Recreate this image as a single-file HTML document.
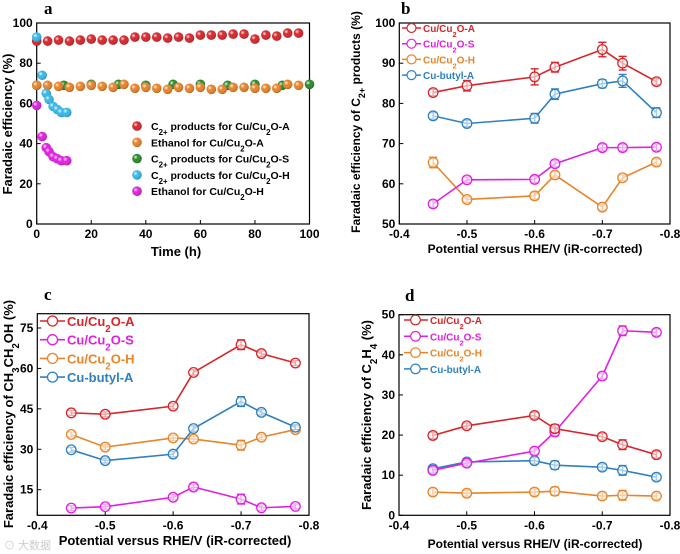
<!DOCTYPE html>
<html><head><meta charset="utf-8"><style>
body{margin:0;background:#fff}
svg{display:block;font-family:"Liberation Sans",Arial,sans-serif}
</style></head><body>
<svg id="fig" width="680" height="554" viewBox="0 0 680 554">
<defs>
<radialGradient id="gr" cx="35%" cy="35%" r="70%"><stop offset="0" stop-color="#fff" stop-opacity="0.9"/><stop offset="0.35" stop-color="#fff" stop-opacity="0"/><stop offset="1" stop-color="#000" stop-opacity="0.25"/></radialGradient>
</defs>
</svg>
<script>
// ---- Panel a data ----
const aRedT=[0,4,8,12,16,20,24,28,32,36,40,44,48,52,56,60,64,68,72,76,80,84,88,92,96];
const aRedV=[91,91,91.5,91,91.5,92,91.5,91.5,91.5,93,93,93,92.5,93,92.5,94,94,94,94.5,94.5,92,94,93.5,95,95];
const aOrgT=[0,4,8,12,16,20,24,28,32,36,40,44,48,52,56,60,64,68,72,76,80,84,88,92,96];
const aOrgV=[69,69,68.5,68,68.5,69,68.5,68,69.5,67.5,68,67.5,67,68,67.5,68,67,67,68,68,67.5,67.5,67.5,69.5,69];
const aGrnT=[0,10,20,30,40,50,60,70,80,90,100];
const aGrnV=[69,69,69.5,69.5,69,69.5,69.5,69,69.5,69,69.5];
const aCyT=[0,2,3.5,4.5,6,7.5,9,11];
const aCyV=[93,74,65,62,58.5,57,55.5,55.5];
const aMgT=[0,2,3.5,4.5,6,7.5,9,11];
const aMgV=[59,43.5,38,36,33.5,32.5,31.5,31.5];
const aXTicks=[0,20,40,60,80,100];
const aYTicks=[0,20,40,60,80,100];
// ---- shared potentials ----
const potentials=[-0.45,-0.5,-0.6,-0.63,-0.7,-0.73,-0.78];
const potTicks=[-0.4,-0.5,-0.6,-0.7,-0.8];
// ---- Panel b data ----
const bA=[82.7,84.4,86.6,89,93.4,90,85.4];
const bAerr=[0.8,1.3,2,1.2,1.8,1.7,0.8];
const bS=[55,61,61.1,65,69,69,69.1];
const bSerr=[0.8,0.7,0.8,0.8,0.8,0.8,0.8];
const bH=[65.3,56.1,57,62.2,54.2,61.5,65.4];
const bHerr=[1.3,0.7,0.8,0.8,0.8,0.7,0.8];
const bB=[76.9,75,76.3,82.3,84.9,85.6,77.7];
const bBerr=[0.8,0.8,1.2,1.3,1,1.6,1.2];
const bYTicks=[50,60,70,80,90,100];
// ---- Panel c data ----
const cA=[43.5,43,46,58.5,68.8,65.5,62];
const cS=[8.2,8.7,12.2,16,11.5,8.3,8.8];
const cH=[35.5,30.8,34.2,33.8,31.5,34.5,37.3];
const cB=[29.8,25.8,28.2,37.7,47.7,43.7,38.2];
const cErr=[0.9,0.9,1,1,1.8,1,0.9];
const cYTicks=[15,30,45,60,75];
// ---- Panel d data ----
const dA=[19.9,22.3,24.9,21.6,19.6,17.6,15.1];
const dS=[11.2,13,16,20.8,34.7,46,45.6];
const dH=[5.8,5.5,5.8,6,4.8,5,4.8];
const dB=[11.6,13.3,13.6,12.5,12,11.2,9.5];
const dErr=[0.8,0.7,0.8,1,0.8,1.2,0.8];
const dYTicks=[0,10,20,30,40,50];

const C={red:'#d7262b',mag:'#e020e0',org:'#e8842a',blu:'#2f80c0',grn:'#2a8a2a',cy:'#38b8e8'};
const NS='http://www.w3.org/2000/svg';
const svg=document.getElementById('fig');
function el(tag,attrs,parent,txt){const e=document.createElementNS(NS,tag);for(const k in attrs)e.setAttribute(k,attrs[k]);if(txt!==undefined)e.textContent=txt;(parent||svg).appendChild(e);return e;}
function lin(d0,d1,r0,r1){return v=>r0+(v-d0)*(r1-r0)/(d1-d0);}

function axes(g,x0,x1,y0,y1,xs,ys,xt,yt,fmtX,name){
  el('rect',{x:x0,y:y1,width:x1-x0,height:y0-y1,fill:'none',stroke:'#000','stroke-width':1.2},g);
  xt.forEach(t=>{const x=xs(t);el('line',{x1:x,x2:x,y1:y0,y2:y0-4,stroke:'#000'},g);
    const tx=el('text',{x:x,y:y0+14,'text-anchor':'middle','font-size':12,'font-weight':'bold'},g,fmtX(t));
    });
  yt.forEach(t=>{const y=ys(t);el('line',{x1:x0,x2:x0+4,y1:y,y2:y,stroke:'#000'},g);
    const tx=el('text',{x:x0-4,y:y+4,'text-anchor':'end','font-size':12,'font-weight':'bold'},g,String(t));
    });
}
function group(name){const g=el('g',{});return g;}
function series(g,xs,ys,xv,yv,err,col,name){
  const pts=xv.map((x,i)=>xs(x)+','+ys(yv[i])).join(' ');
  const pl=el('polyline',{points:pts,fill:'none',stroke:col,'stroke-width':1.6},g);
  
  xv.forEach((x,i)=>{const cx=xs(x),cy=ys(yv[i]);
    if(err){const e=err[i];const ya=ys(yv[i]+e),yb=ys(yv[i]-e);
      el('line',{x1:cx,x2:cx,y1:ya,y2:yb,stroke:col,'stroke-width':1.4},g);
      el('line',{x1:cx-4,x2:cx+4,y1:ya,y2:ya,stroke:col,'stroke-width':1.4},g);
      el('line',{x1:cx-4,x2:cx+4,y1:yb,y2:yb,stroke:col,'stroke-width':1.4},g);}
    const m=el('circle',{cx:cx,cy:cy,r:4.8,fill:'#fff','fill-opacity':0.6,stroke:col,'stroke-width':1.3},g);
    });
}
function ball(g,x,y,col,name){
  const c=el('circle',{cx:x,cy:y,r:4.8,fill:col},g);
  el('circle',{cx:x,cy:y,r:4.8,fill:'url(#gr)'},g);
}
function sub(parent,x,y,anchor,size,col,parts,name){
  const t=el('text',{x:x,y:y,'font-size':size,'font-weight':'bold',fill:col,'text-anchor':anchor},parent);
  
  parts.forEach(p=>{const s=el('tspan',{},t,p[0]);if(p[1]==='sub'){s.setAttribute('baseline-shift','sub');s.setAttribute('font-size',size*0.75);}});
  return t;
}
function panelLabel(x,y,l){const t=el('text',{x:x,y:y,'font-family':'"Liberation Serif",serif','font-size':17,'font-weight':'bold'},svg,l);}
const fmtP=t=>t.toFixed(1);

// ===== Panel a =====
{const g=group('panel-a');const X0=36.7,X1=309.5,Y0=224,Y1=23;
 const xs=lin(0,100,X0,X1),ys=lin(0,100,Y0,Y1);
 axes(g,X0,X1,Y0,Y1,xs,ys,aXTicks,aYTicks,String,'panel-a');
 aGrnT.forEach((t,i)=>ball(g,xs(t),ys(aGrnV[i]),C.grn,'green-point'));
 aOrgT.forEach((t,i)=>ball(g,xs(t),ys(aOrgV[i]),C.org,'orange-point'));
 aRedT.forEach((t,i)=>ball(g,xs(t),ys(aRedV[i]),C.red,'red-point'));
 aCyT.forEach((t,i)=>ball(g,xs(t),ys(aCyV[i]),C.cy,'cyan-point'));
 aMgT.forEach((t,i)=>ball(g,xs(t),ys(aMgV[i]),C.mag,'magenta-point'));
 const leg=[[C.red,[['C'],['2+','sub'],[' products for Cu/Cu'],['2','sub'],['O-A']]],
  [C.org,[['Ethanol for Cu/Cu'],['2','sub'],['O-A']]],
  [C.grn,[['C'],['2+','sub'],[' products for Cu/Cu'],['2','sub'],['O-S']]],
  [C.cy,[['C'],['2+','sub'],[' products for Cu/Cu'],['2','sub'],['O-H']]],
  [C.mag,[['Ethanol for Cu/Cu'],['2','sub'],['O-H']]]];
 leg.forEach((l,i)=>{const y=126+i*16.3;ball(g,137,y,l[0],'legend-marker');sub(g,151,y+4,'start',10.5,'#000',l[1],'legend-entry');});
 const xl=el('text',{x:176,y:256,'text-anchor':'middle','font-size':13,'font-weight':'bold'},g,'Time (h)');
 const yl=el('text',{x:0,y:0,'text-anchor':'middle','font-size':13,'font-weight':'bold',transform:'translate(12,124) rotate(-90)'},g,'Faradaic efficiency (%)');
}
panelLabel(44,14,'a');

// ===== Panel b =====
{const g=group('panel-b');const X0=399.3,X1=670,Y0=224,Y1=23;
 const xs=lin(-0.4,-0.8,X0,X1),ys=lin(50,100,Y0,Y1);
 axes(g,X0,X1,Y0,Y1,xs,ys,potTicks,bYTicks,fmtP,'panel-b');
 series(g,xs,ys,potentials,bH,bHerr,C.org,'b-cu-cu2o-h');
 series(g,xs,ys,potentials,bS,bSerr,C.mag,'b-cu-cu2o-s');
 series(g,xs,ys,potentials,bB,bBerr,C.blu,'b-cu-butyl-a');
 series(g,xs,ys,potentials,bA,bAerr,C.red,'b-cu-cu2o-a');
 const L=[[C.red,[['Cu/Cu'],['2','sub'],['O-A']]],[C.mag,[['Cu/Cu'],['2','sub'],['O-S']]],[C.org,[['Cu/Cu'],['2','sub'],['O-H']]],[C.blu,[['Cu-butyl-A']]]];
 L.forEach((l,i)=>{const y=28+i*15.7;el('line',{x1:402,x2:421,y1:y,y2:y,stroke:l[0],'stroke-width':1.5},g);el('circle',{cx:411.5,cy:y,r:4.5,fill:'#fff',stroke:l[0],'stroke-width':1.2},g);sub(g,423,y+4,'start',10,l[0],l[1],'legend-entry');});
 const xl=el('text',{x:535,y:253,'text-anchor':'middle','font-size':12,'font-weight':'bold'},g,'Potential versus RHE/V (iR-corrected)');
 sub(g,0,0,'middle',12,'#000',[['Faradaic efficiency of C'],['2+','sub'],[' products (%)']],'y-axis-title-b').setAttribute('transform','translate(360,122) rotate(-90)');
}
panelLabel(401,14,'b');

// ===== Panel c =====
{const g=group('panel-c');const X0=37.3,X1=309,Y0=515.3,Y1=313.7;
 const xs=lin(-0.4,-0.8,X0,X1),ys=lin(5.5,80.3,Y0,Y1);
 axes(g,X0,X1,Y0,Y1,xs,ys,potTicks,cYTicks,fmtP,'panel-c');
 series(g,xs,ys,potentials,cH,cErr,C.org,'c-cu-cu2o-h');
 series(g,xs,ys,potentials,cB,cErr,C.blu,'c-cu-butyl-a');
 series(g,xs,ys,potentials,cS,cErr,C.mag,'c-cu-cu2o-s');
 series(g,xs,ys,potentials,cA,cErr,C.red,'c-cu-cu2o-a');
 const L=[[C.red,[['Cu/Cu'],['2','sub'],['O-A']]],[C.mag,[['Cu/Cu'],['2','sub'],['O-S']]],[C.org,[['Cu/Cu'],['2','sub'],['O-H']]],[C.blu,[['Cu-butyl-A']]]];
 L.forEach((l,i)=>{const y=321+i*18.7;el('line',{x1:40,x2:65,y1:y,y2:y,stroke:l[0],'stroke-width':1.6},g);el('circle',{cx:52.5,cy:y,r:5,fill:'#fff',stroke:l[0],'stroke-width':1.3},g);sub(g,67,y+5,'start',13,l[0],l[1],'legend-entry');});
 const wm=el('text',{x:4,y:549,'font-size':11,fill:'#ccc','font-family':'"Liberation Sans","Noto Sans CJK SC",sans-serif'},g,'⊙ 大数据');
 const xl=el('text',{x:175,y:545,'text-anchor':'middle','font-size':13,'font-weight':'bold'},g,'Potential versus RHE/V (iR-corrected)');
 sub(g,0,0,'middle',13,'#000',[['Faradaic efficiency of CH'],['3','sub'],['CH'],['2','sub'],['OH (%)']],'y-axis-title-c').setAttribute('transform','translate(13,414) rotate(-90)');
}
panelLabel(44,300,'c');

// ===== Panel d =====
{const g=group('panel-d');const X0=399,X1=670,Y0=515.3,Y1=314.7;
 const xs=lin(-0.4,-0.8,X0,X1),ys=lin(0,50,Y0,Y1);
 axes(g,X0,X1,Y0,Y1,xs,ys,potTicks,dYTicks,fmtP,'panel-d');
 series(g,xs,ys,potentials,dH,dErr,C.org,'d-cu-cu2o-h');
 series(g,xs,ys,potentials,dB,dErr,C.blu,'d-cu-butyl-a');
 series(g,xs,ys,potentials,dS,dErr,C.mag,'d-cu-cu2o-s');
 series(g,xs,ys,potentials,dA,dErr,C.red,'d-cu-cu2o-a');
 const L=[[C.red,[['Cu/Cu'],['2','sub'],['O-A']]],[C.mag,[['Cu/Cu'],['2','sub'],['O-S']]],[C.org,[['Cu/Cu'],['2','sub'],['O-H']]],[C.blu,[['Cu-butyl-A']]]];
 L.forEach((l,i)=>{const y=320+i*16.3;el('line',{x1:404,x2:428,y1:y,y2:y,stroke:l[0],'stroke-width':1.5},g);el('circle',{cx:415.5,cy:y,r:4.8,fill:'#fff',stroke:l[0],'stroke-width':1.2},g);sub(g,430,y+4,'start',10,l[0],l[1],'legend-entry');});
 const xl=el('text',{x:535,y:548,'text-anchor':'middle','font-size':12,'font-weight':'bold'},g,'Potential versus RHE/V (iR-corrected)');
 sub(g,0,0,'middle',13,'#000',[['Faradaic efficiency of C'],['2','sub'],['H'],['4','sub'],[' (%)']],'y-axis-title-d').setAttribute('transform','translate(371,415) rotate(-90)');
}
panelLabel(405,301,'d');
</script>
</body></html>
